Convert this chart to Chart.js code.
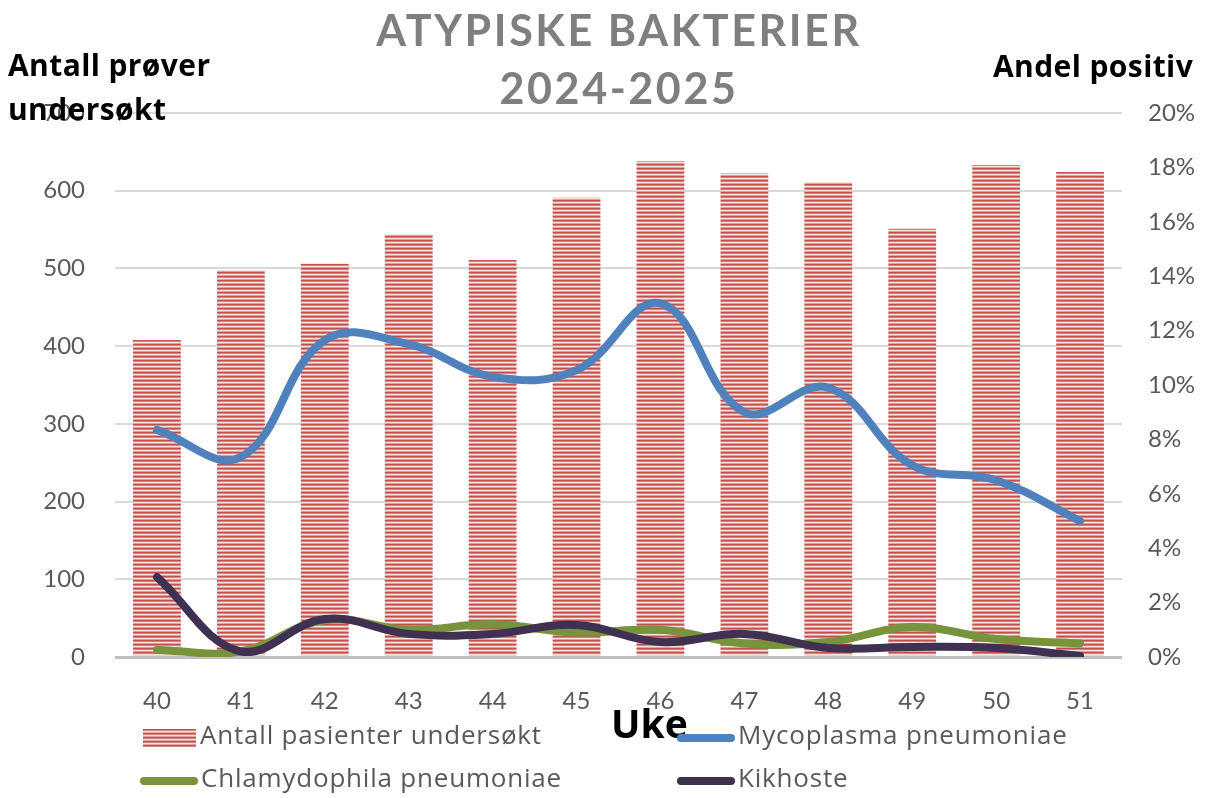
<!DOCTYPE html>
<html>
<head>
<meta charset="utf-8">
<script src="https://cdn.jsdelivr.net/npm/chart.js@4.4.1/dist/chart.umd.min.js"></script>
<style>
  body { margin: 0; background: #fff; }
  #wrap { position: relative; width: 1206px; height: 798px; font-family: Lato, "Open Sans", sans-serif; }
  #wrap canvas { position: absolute; left: 0; top: 0; }
  .txt { position: absolute; line-height: 1; white-space: nowrap; }
  .title { color: #7f7f7f; font-weight: bold; font-size: 43px; letter-spacing: 2.6px; width: 1206px; text-align: center; left: 16px; }
  .axt { color: #000; font-weight: bold; font-size: 30px; font-family: "Open Sans", sans-serif; letter-spacing: 0.4px; }
  .leg { color: #595959; font-size: 26px; font-family: "Open Sans", sans-serif; letter-spacing: 0.8px; }
  .sw { position: absolute; }
</style>
</head>
<body>
<div id="wrap">
  <canvas id="c" width="1206" height="798"></canvas>
  <div class="txt title" style="top:8px;">ATYPISKE BAKTERIER</div>
  <div class="txt title" style="top:66px;">2024-2025</div>
  <div class="txt axt" style="left:8px; top:50px;">Antall prøver</div>
  <div class="txt axt" style="left:8px; top:94px;">undersøkt</div>
  <div class="txt axt" style="left:993px; top:51px;">Andel positiv</div>
  <div class="txt axt" style="left:611px; top:703px; font-size:39px; letter-spacing:0;">Uke</div>
  <div id="legend"></div>
</div>
<script>
const weeks = ["40", "41", "42", "43", "44", "45", "46", "47", "48", "49", "50", "51"];
const antallPasienter = [408, 498, 506, 544, 511, 591, 638, 622, 611, 551, 633, 624];
const mycoplasma = [8.35, 7.35, 11.65, 11.5, 10.3, 10.55, 13.0, 9.0, 9.9, 7.05, 6.5, 5.0];
const chlamydophila = [0.26, 0.2, 1.36, 1.0, 1.2, 0.9, 1.0, 0.5, 0.55, 1.1, 0.66, 0.5];
const kikhoste = [2.94, 0.2, 1.4, 0.85, 0.85, 1.18, 0.55, 0.85, 0.33, 0.37, 0.33, 0.04];
const seriesNames = ["Antall pasienter undersøkt", "Mycoplasma pneumoniae", "Chlamydophila pneumoniae", "Kikhoste"];

// horizontal stripe fill for the bars
const pc = document.createElement("canvas");
pc.width = 4; pc.height = 4;
const pctx = pc.getContext("2d");
const stripes = ["#c0504d", "#d68482", "#f6e0df", "#e0a3a1"];
stripes.forEach((col, i) => { pctx.fillStyle = col; pctx.fillRect(0, i, 4, 1); });
const ctx = document.getElementById("c").getContext("2d");
const stripePattern = ctx.createPattern(pc, "repeat");

const blue = "#4f81bd", green = "#77933c", purple = "#3f3151";
const tickFont = { family: "Lato, 'Open Sans', sans-serif", size: 24 };

new Chart(ctx, {
  type: "bar",
  data: {
    labels: weeks,
    datasets: [
      { type: "line", label: seriesNames[3], data: kikhoste, yAxisID: "y1", borderColor: purple, borderWidth: 8, tension: 0.4, pointRadius: 0, borderCapStyle: "round", order: 1 },
      { type: "line", label: seriesNames[2], data: chlamydophila, yAxisID: "y1", borderColor: green, borderWidth: 8, tension: 0.4, pointRadius: 0, borderCapStyle: "round", order: 2 },
      { type: "line", label: seriesNames[1], data: mycoplasma, yAxisID: "y1", borderColor: blue, borderWidth: 8, tension: 0.4, pointRadius: 0, borderCapStyle: "round", order: 3 },
      { label: seriesNames[0], data: antallPasienter, yAxisID: "y", backgroundColor: stripePattern, borderWidth: 0, categoryPercentage: 1, barPercentage: 0.57, order: 4 }
    ]
  },
  options: {
    responsive: false,
    animation: false,
    layout: { padding: { top: 113, left: 0, right: 0, bottom: 0 } },
    plugins: { legend: { display: false }, tooltip: { enabled: false } },
    scales: {
      x: {
        grid: { display: false },
        border: { display: false },
        ticks: { font: tickFont, color: "#595959", padding: 22 },
        afterFit: s => { s.height = 141; }
      },
      y: {
        position: "left",
        min: 0, max: 700,
        ticks: { stepSize: 100, font: tickFont, color: "#595959", padding: 30 },
        grid: {
          drawTicks: false,
          color: c => c.tick.value === 0 ? "#bfbfbf" : "#d9d9d9",
          lineWidth: c => c.tick.value === 0 ? 3 : 2
        },
        border: { display: false },
        afterFit: s => { s.width = 115; }
      },
      y1: {
        position: "right",
        min: 0, max: 20,
        ticks: { stepSize: 2, font: tickFont, color: "#595959", padding: 26, callback: v => v + "%" },
        grid: { display: false, drawTicks: false },
        border: { display: false },
        afterFit: s => { s.width = 84; }
      }
    }
  }
});

// legend as html text
const leg = document.getElementById("legend");
const legItems = [
  { name: seriesNames[0], x: 143, y: 721, kind: "bar" },
  { name: seriesNames[1], x: 677, y: 721, kind: "line", color: blue },
  { name: seriesNames[2], x: 140, y: 764, kind: "line", color: green },
  { name: seriesNames[3], x: 677, y: 764, kind: "line", color: purple }
];
legItems.forEach(it => {
  const sw = document.createElement("div");
  sw.className = "sw";
  if (it.kind === "bar") {
    Object.assign(sw.style, { left: it.x + "px", top: (it.y + 8) + "px", width: "53px", height: "18px",
      background: "repeating-linear-gradient(to bottom, #c0504d 0px, #c0504d 1px, #d68482 1px, #d68482 2px, #f6e0df 2px, #f6e0df 3px, #e0a3a1 3px, #e0a3a1 4px)" });
  } else {
    Object.assign(sw.style, { left: it.x + "px", top: (it.y + 13) + "px", width: "58px", height: "8px",
      background: it.color, borderRadius: "4px" });
  }
  leg.appendChild(sw);
  const t = document.createElement("div");
  t.className = "txt leg";
  t.textContent = it.name;
  Object.assign(t.style, { left: (it.kind === "bar" ? it.x + 57 : it.x + 61) + "px", top: it.y + "px" });
  leg.appendChild(t);
});
</script>
</body>
</html>
